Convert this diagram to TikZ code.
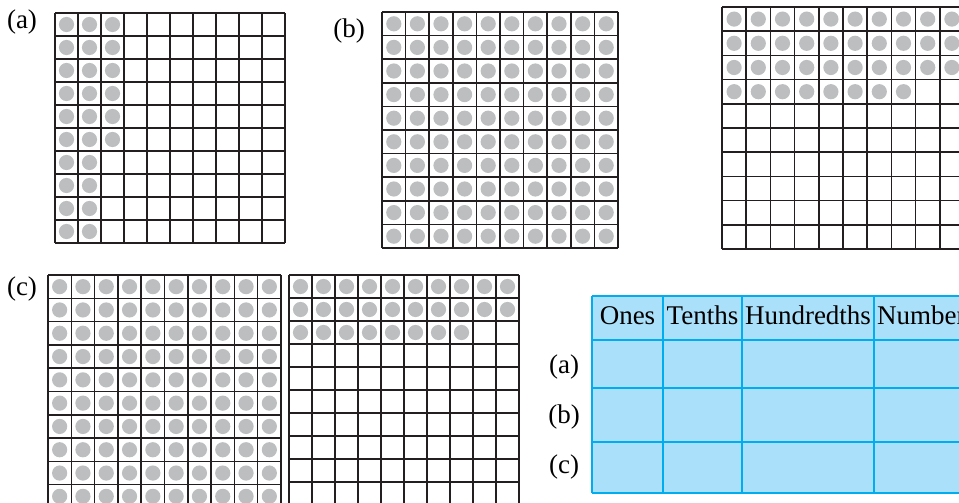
\documentclass[tikz,border=0pt]{standalone}
\usepackage{fontspec}
\setmainfont{Liberation Serif}
\definecolor{cline}{RGB}{35,31,32}
\definecolor{cdot}{RGB}{188,190,192}
\definecolor{tline}{RGB}{0,174,239}
\definecolor{tfill}{RGB}{171,224,250}

% ten-by-ten square: left, top, cell size
\newcommand{\hundredgrid}[3]{%
  \foreach \i in {0,...,10} {
    \draw[gridline] (#1+\i*#3,#2) -- (#1+\i*#3,#2+10*#3);
    \draw[gridline] (#1,#2+\i*#3) -- (#1+10*#3,#2+\i*#3);
  }}
% beads: left, top, cell, first row, last row, first col, last col
\newcommand{\beads}[7]{%
  \foreach \r in {#4,...,#5} {
    \foreach \c in {#6,...,#7} {
      \fill[bead] (#1+\c*#3-0.5*#3,#2+\r*#3-0.5*#3) circle[radius=7.6pt];
    }
  }}

\begin{document}
\begin{tikzpicture}[x=1pt,y=-1pt,font=\fontsize{27}{31}\selectfont,
  gridline/.style={draw=cline,line width=1.5pt},
  bead/.style={fill=cdot},
  tab/.style={draw=tline,line width=2pt},
  lbl/.style={anchor=base,inner sep=0pt},
]
\useasboundingbox (0,0) rectangle (959,503);
\clip (0,0) rectangle (959,503);

% (a) 0.26
\node[lbl] (la) at (22,29) {(a)};
\beads{55}{13}{23}{1}{6}{1}{3}
\beads{55}{13}{23}{7}{10}{1}{2}
\hundredgrid{55}{13}{23}

% (b) 1.38
\node[lbl] (lb) at (349,38) {(b)};
\beads{382}{12}{23.6}{1}{10}{1}{10}
\hundredgrid{382}{12}{23.6}
\beads{722}{7}{24.2}{1}{3}{1}{10}
\beads{722}{7}{24.2}{4}{4}{1}{8}
\hundredgrid{722}{7}{24.2}

% (c) 1.28
\node[lbl] (lc) at (22,295) {(c)};
\beads{48}{275}{23.3}{1}{10}{1}{10}
\hundredgrid{48}{275}{23.3}
\beads{289}{275}{23}{1}{2}{1}{10}
\beads{289}{275}{23}{3}{3}{1}{8}
\hundredgrid{289}{275}{23}

% table
\fill[tfill] (592,296) rectangle (1010,493);
\foreach \x in {592,663,742,874} \draw[tab] (\x,296) -- (\x,493);
\foreach \y in {296,340,388,442,493} \draw[tab] (592,\y) -- (1010,\y);
\node[lbl] (hones) at (627.5,324) {Ones};
\node[lbl] (hten) at (702.5,324) {Tenths};
\node[lbl] (hhun) at (808,324) {Hundredths};
\node[lbl,anchor=base west] (hnum) at (877,324) {Number};
\node[lbl] (ra) at (564,373) {(a)};
\node[lbl] (rb) at (564,423) {(b)};
\node[lbl] (rc) at (564,473) {(c)};
\end{tikzpicture}
\end{document}
